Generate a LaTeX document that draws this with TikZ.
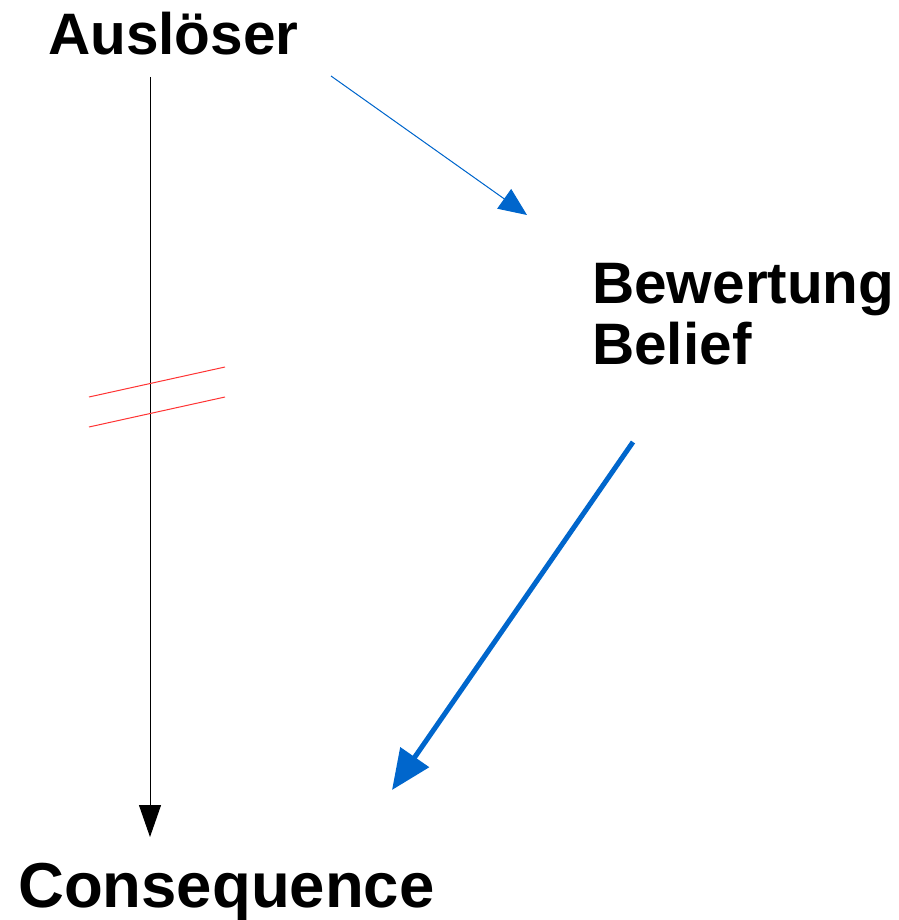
\documentclass[tikz,border=0pt]{standalone}
\usepackage{fontspec}
\setmainfont{Liberation Sans}
\usetikzlibrary{arrows.meta}
\definecolor{lblue}{HTML}{0066CC}
\definecolor{lred}{HTML}{FF3333}
\tikzset{
  lbl/.style={anchor=base west, inner sep=0pt, font=\bfseries\fontsize{58.5}{62}\selectfont},
  biglbl/.style={lbl, font=\bfseries\fontsize{63.5}{66}\selectfont},
  thinarrow/.style={draw=lblue, line width=1pt, -{Triangle[length=28pt,width=24pt]}, fill=lblue},
  thickarrow/.style={draw=lblue, line width=5pt, -{Triangle[length=40pt,width=34pt]}, fill=lblue},
  blackarrow/.style={draw=black, line width=1pt, -{Triangle[length=32pt,width=22pt]}},
  redline/.style={draw=lred, line width=1pt}
}
\begin{document}
\begin{tikzpicture}[x=1pt,y=-1pt]
\useasboundingbox (0,0) rectangle (898,920);
\node[lbl] (ausl) at (48,55) {Auslöser};
\node[lbl] (bew) at (592,303) {Bewertung};
\node[lbl] (bel) at (592,364) {Belief};
\node[biglbl] (cons) at (18,907) {Consequence};
\coordinate (a1) at (150,77);
\coordinate (a2) at (150,837);
\coordinate (b1) at (331,76);
\coordinate (b2) at (527,215);
\coordinate (c1) at (633,442);
\coordinate (c2) at (392,790);
\coordinate (r1a) at (89,397);
\coordinate (r1b) at (225,367);
\coordinate (r2a) at (89,427);
\coordinate (r2b) at (225,397);
\draw[blackarrow] (a1) -- (a2);
\draw[thinarrow] (b1) -- (b2);
\draw[thickarrow] (c1) -- (c2);
\draw[redline] (r1a) -- (r1b);
\draw[redline] (r2a) -- (r2b);
\end{tikzpicture}
\end{document}
